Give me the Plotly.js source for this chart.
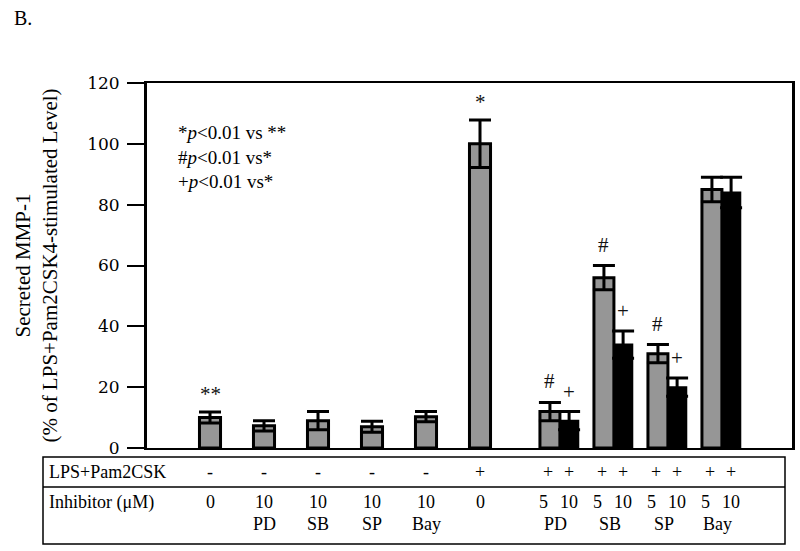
<!DOCTYPE html>
<html><head><meta charset="utf-8">
<script src="https://cdn.plot.ly/plotly-3.0.1.min.js"></script>
<style>html,body{margin:0;padding:0;background:#fff}</style>
</head><body><div id="chart" style="width:800px;height:551px"></div>
<script>
// ---- data ----
const singleCats = ["Control", "PD 10", "SB 10", "SP 10", "Bay 10", "LPS+Pam2CSK"];
const singleVals = [10, 7.3, 9, 7, 10.3, 100];
const singleErr = [1.8, 1.7, 3, 1.8, 1.7, 7.8];
const singleMarks = ["**", "", "", "", "", "*"];
const groupCats = ["PD", "SB", "SP", "Bay"];
const lowVals = [12, 56, 31, 85];
const lowErr = [3, 4, 3, 4];
const lowMarks = ["#", "#", "#", ""];
const highVals = [9, 34, 20, 84];
const highErr = [3, 4.5, 3, 5];
const highMarks = ["+", "+", "+", ""];
const lpsSingles = ["-", "-", "-", "-", "-", "+"];
const lpsGroups = ["+", "+"];
const doseSingles = ["0", "10", "10", "10", "10", "0"];
const inhibSingles = ["", "PD", "SB", "SP", "Bay", ""];
const groupDoses = ["5", "10"];
const yTicks = [0, 20, 40, 60, 80, 100, 120];
const rowLabels = ["LPS+Pam2CSK", "Inhibitor (\u03bcM)"];
const legendLines = ["*<i>p</i><0.01 vs **", "#<i>p</i><0.01 vs*", "+<i>p</i><0.01 vs*"];

// ---- styling ----
const SERIF = "Liberation Serif, Times New Roman, serif";
const GRAY = "#969696";
const singleW = 0.39;
const lowOff = 0.11, lowW = 0.37;
const highOff = 0.48, highW = 0.34;
const allCats = singleCats.concat(groupCats);

const errStyle = (arr) => ({type: "data", array: arr, visible: true, color: "#000", thickness: 3, width: 11});

const traces = [
  {type: "bar", x: singleCats, y: singleVals, width: singleW,
   marker: {color: GRAY, line: {color: "#000", width: 3}}, error_y: errStyle(singleErr), hoverinfo: "y"},
  {type: "bar", x: groupCats, y: lowVals, width: lowW, offset: lowOff,
   marker: {color: GRAY, line: {color: "#000", width: 3}}, error_y: errStyle(lowErr), hoverinfo: "y"},
  {type: "bar", x: groupCats, y: highVals, width: highW, offset: highOff,
   marker: {color: "#000", line: {color: "#000", width: 2}}, error_y: errStyle(highErr), hoverinfo: "y"}
];

// paper helpers (plot area: x 147..792, y 83..448)
const L = 147, R = 792, T = 83, B = 448;
const px = (p) => (p - L) / (R - L);
const py = (p) => (B - p) / (B - T);

const ann = [];
const txt = (o) => ann.push(Object.assign({showarrow: false, font: {family: SERIF, size: 18, color: "#000"}}, o));
const markFont = {family: SERIF, size: 21, color: "#111"};

// significance marks
singleCats.forEach((c, i) => {
  if (singleMarks[i]) txt({x: i, y: singleVals[i] + singleErr[i], xref: "x", yref: "y", text: singleMarks[i], yshift: 18, font: markFont});
});
groupCats.forEach((c, j) => {
  const k = singleCats.length + j;
  if (lowMarks[j]) txt({x: k + lowOff + lowW / 2, y: lowVals[j] + lowErr[j], xref: "x", yref: "y", text: lowMarks[j], yshift: 21, font: markFont});
  if (highMarks[j]) txt({x: k + highOff + highW / 2, y: highVals[j] + highErr[j], xref: "x", yref: "y", text: highMarks[j], yshift: 20, font: markFont});
});

// legend-like text
txt({x: px(176), y: py(120), xref: "paper", yref: "paper", xanchor: "left", yanchor: "top", align: "left",
     text: legendLines.join("<br>"), font: {family: SERIF, size: 19, color: "#000"}});
// panel letter
txt({x: px(12), y: py(18), xref: "paper", yref: "paper", xanchor: "left", yanchor: "middle", text: "B.", font: {family: SERIF, size: 20, color: "#000"}});

// table rows
txt({x: px(47), y: py(472), xref: "paper", yref: "paper", xanchor: "left", yanchor: "middle", text: rowLabels[0]});
txt({x: px(47), y: py(502), xref: "paper", yref: "paper", xanchor: "left", yanchor: "middle", text: rowLabels[1]});
singleCats.forEach((c, i) => {
  txt({x: i, xref: "x", y: py(472), yref: "paper", yanchor: "middle", text: lpsSingles[i]});
  txt({x: i, xref: "x", y: py(502), yref: "paper", yanchor: "middle", text: doseSingles[i]});
  if (inhibSingles[i]) txt({x: i, xref: "x", y: py(524), yref: "paper", yanchor: "middle", text: inhibSingles[i]});
});
groupCats.forEach((c, j) => {
  const k = singleCats.length + j;
  const lc = k + lowOff + lowW / 2, hc = k + highOff + highW / 2;
  txt({x: lc, xref: "x", y: py(472), yref: "paper", yanchor: "middle", text: lpsGroups[0], xshift: -2});
  txt({x: hc, xref: "x", y: py(472), yref: "paper", yanchor: "middle", text: lpsGroups[1]});
  txt({x: lc, xref: "x", y: py(502), yref: "paper", yanchor: "middle", text: groupDoses[0], xshift: -6});
  txt({x: hc, xref: "x", y: py(502), yref: "paper", yanchor: "middle", text: groupDoses[1]});
  txt({x: k + highOff, xref: "x", y: py(524), yref: "paper", yanchor: "middle", text: c, xshift: -4});
});

const shapes = [
  {type: "rect", xref: "paper", yref: "paper", x0: px(43), x1: px(785), y0: py(544), y1: py(457), line: {color: "#000", width: 1.5}},
  {type: "line", xref: "paper", yref: "paper", x0: px(43), x1: px(785), y0: py(487), y1: py(487), line: {color: "#000", width: 1.5}}
];

const layout = {
  width: 800, height: 551,
  margin: {l: L, r: 800 - R, t: T, b: 551 - B, pad: 0},
  paper_bgcolor: "#fff", plot_bgcolor: "#fff",
  showlegend: false, barmode: "overlay",
  xaxis: {type: "category", categoryorder: "array", categoryarray: allCats,
          range: [(L - 210) / 54, (R - 210) / 54], showticklabels: false, ticks: "",
          showgrid: false, zeroline: false, showline: true, linecolor: "#000", linewidth: 2, mirror: true, fixedrange: true},
  yaxis: {range: [0, 120], tickvals: yTicks, ticktext: yTicks.map(String), ticks: "outside", ticklen: 17, tickwidth: 2, tickcolor: "#000",
          ticklabelstandoff: 4,
          tickfont: {family: "DejaVu Serif, serif", size: 17, color: "#000"},
          showgrid: false, zeroline: false, showline: true, linecolor: "#000", linewidth: 3, mirror: true,
          title: {text: "Secreted MMP-1<br>(% of LPS+Pam2CSK4-stimulated Level)", font: {family: SERIF, size: 21, color: "#000"}, standoff: 24},
          fixedrange: true},
  annotations: ann,
  shapes: shapes
};

Plotly.newPlot("chart", traces, layout, {displayModeBar: false, staticPlot: true});
</script>
</body></html>
